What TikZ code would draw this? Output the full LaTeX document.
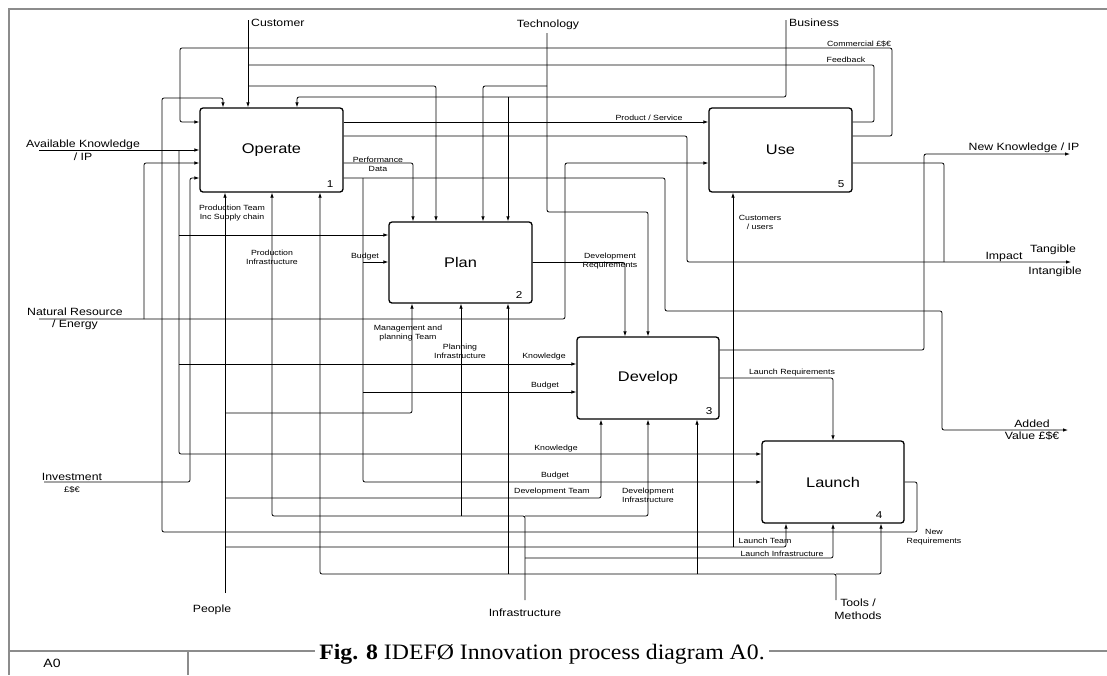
\documentclass[tikz,border=0pt]{standalone}
\usepackage{fontspec}
\setmainfont{Liberation Sans}[FakeStretch=1.17]
\newfontfamily\capfont{Liberation Serif}[FakeStretch=1.08]
\usetikzlibrary{arrows.meta}

\begin{document}
\begin{tikzpicture}[x=1pt, y=-1pt, every node/.style={inner sep=0pt},
  func/.style={draw, line width=1.3pt, rounded corners=3pt, minimum width=143pt, minimum height=84pt, font=\fontsize{14}{14}\selectfont},
  num/.style={anchor=south east, font=\fontsize{10}{10}\selectfont},
  ext/.style={align=center, font=\fontsize{10.5}{12.5}\selectfont},
  lbl/.style={align=center, font=\fontsize{7.5}{9}\selectfont},
  arr/.style={-{Latex[length=5pt,width=3.5pt]}, line width=0.8pt, rounded corners=2pt},
  wire/.style={line width=0.8pt, rounded corners=2pt},
  frame/.style={draw=black!45, line width=1.2pt}]
\useasboundingbox (0,0) rectangle (1107,675);
\draw[frame] (1107,9) -- (9,9) -- (9,675);
\draw[frame] (9,651) -- (1107,651);
\draw[frame] (188,651) -- (188,675);
\node[ext, font=\fontsize{12}{12}\selectfont] (sheet) at (52,663) {A0};
\node[fill=white, inner xsep=4pt, inner ysep=1pt, anchor=base, font=\capfont\fontsize{22}{22}\selectfont] (caption) at (542,659) {\textbf{Fig. 8} IDEFØ Innovation process diagram A0.};

\node[func] (op) at (271.5,150) {Operate};
\node[func] (us) at (780.5,150) {Use};
\node[func, minimum height=81pt] (pl) at (460.5,262.5) {Plan};
\node[func, minimum width=142pt, minimum height=82pt] (dv) at (648,378) {Develop};
\node[func, minimum width=142pt, minimum height=82pt] (la) at (833,482) {Launch};
\node[num] (op-n) at ([shift={(-10,-5)}]op.south east) {1};
\node[num] (pl-n) at ([shift={(-10,-5)}]pl.south east) {2};
\node[num] (dv-n) at ([shift={(-7,-5)}]dv.south east) {3};
\node[num] (la-n) at ([shift={(-22,-5)}]la.south east) {4};
\node[num] (us-n) at ([shift={(-8,-5)}]us.south east) {5};

\coordinate (cust) at (248,20);
\coordinate (tech) at (547,33);
\coordinate (bus) at (786,20);
\coordinate (avk) at (39,150);
\coordinate (nat) at (39,319);
\coordinate (inv) at (44,482);
\coordinate (ppl) at (225,593);
\coordinate (infra) at (525,600);
\coordinate (tool) at (836,600);
\coordinate (nkip) at (1070,154);
\coordinate (impact) at (1071,262);
\coordinate (addv) at (1068,430);

\draw[arr] (cust) -- (op.north -| cust);
\draw[arr] (cust |- 0,86) -- (436,86) -- (pl.north -| 436,0);
\draw[wire] (us.east |- 0,122) -- (874,122) -- (874,65) -- (cust |- 0,65);
\draw[arr] (us.east |- 0,136) -- (892,136) -- (892,48) -- (180,48) -- (180,122) -- (op.west |- 0,122);
\draw[arr] (bus) -- (bus |- 0,97) -- (297,97) -- (op.north -| 297,0);
\draw[arr] (508,97) -- (pl.north -| 508,0);
\draw[arr] (tech) -- (547,212) -- (648,212) -- (dv.north);
\draw[arr] (tech |- 0,86) -- (483,86) -- (pl.north -| 483,0);
\draw[arr] (la.east) -- (917,482) -- (917,532) -- (162,532) -- (162,98) -- (223,98) -- (op.north -| 223,0);

\draw[arr] (avk) -- (op.west |- avk);
\draw[arr] (179,150) -- (179,454) -- (la.west |- 0,454);
\draw[arr] (179,235) -- (pl.west |- 0,235);
\draw[arr] (179,364) -- (dv.west |- 0,364);
\draw[arr] (nat) -- (565,319) -- (565,163) -- (us.west |- 0,163);
\draw[arr] (144,319) -- (144,163) -- (op.west |- 0,163);
\draw[arr] (inv) -- (190,482) -- (190,178) -- (op.west |- 0,178);

\draw[arr] (op.east |- 0,122) -- (us.west |- 0,122);
\draw[arr] (op.east |- 0,136) -- (687,136) -- (687,262) -- (impact);
\draw[wire] (us.east |- 0,163) -- (944,163) -- (944,262);
\draw[arr] (op.east |- 0,163) -- (413,163) -- (pl.north -| 413,0);
\draw[arr] (op.east |- 0,178) -- (665,178) -- (665,311) -- (942,311) -- (942,430) -- (addv);
\draw[arr] (363,178) -- (363,482) -- (la.west |- 0,482);
\draw[arr] (363,262) -- (pl.west |- 0,262);
\draw[arr] (363,392) -- (dv.west |- 0,392);

\draw[arr] (pl.east) -- (625,262.5) -- (dv.north -| 625,0);
\draw[arr] (dv.east |- 0,350) -- (924,350) -- (924,154) -- (nkip);
\draw[arr] (dv.east) -- (833,378) -- (la.north);

\draw[arr] (ppl) -- (op.south -| ppl);
\draw[arr] (ppl |- 0,413) -- (412,413) -- (pl.south -| 412,0);
\draw[arr] (ppl |- 0,498) -- (601,498) -- (dv.south -| 601,0);
\draw[arr] (ppl |- 0,547) -- (786,547) -- (la.south -| 786,0);
\draw[arr] (733,547) -- (us.south -| 733,0);
\draw[arr] (infra) -- (infra |- 0,516) -- (272,516) -- (op.south -| 272,0);
\draw[arr] (infra |- 0,516) -- (648,516) -- (dv.south);
\draw[arr] (461,516) -- (pl.south -| 461,0);
\draw[arr] (infra |- 0,558) -- (833,558) -- (la.south);
\draw[arr] (tool) -- (836,574) -- (320,574) -- (op.south -| 320,0);
\draw[arr] (836,574) -- (881,574) -- (la.south -| 881,0);
\draw[arr] (508,574) -- (pl.south -| 508,0);
\draw[arr] (697,574) -- (dv.south -| 697,0);

\node[ext, anchor=west] (cust-l) at (251,23) {Customer};
\node[ext] (tech-l) at (548,25) {Technology};
\node[ext, anchor=west] (bus-l) at (789,23) {Business};
\node[ext] (avk-l) at (83,150) {Available Knowledge\\/ IP};
\node[ext] (nat-l) at (75,319) {Natural Resource\\/ Energy};
\node[ext] (inv-l) at (72,483) {Investment\\{\fontsize{8}{9}\selectfont£\$€}};
\node[ext] (ppl-l) at (212,610) {People};
\node[ext] (infra-l) at (525,613) {Infrastructure};
\node[ext] (tool-l) at (858,609) {Tools /\\Methods};
\node[ext] (nkip-l) at (1024,148) {New Knowledge / IP};
\node[ext] (impact-l) at (1004,257) {Impact};
\node[ext] (tang-l) at (1053,250) {Tangible};
\node[ext] (intang-l) at (1055,272) {Intangible};
\node[ext] (addv-l) at (1032,430) {Added\\Value £\$€};

\node[lbl] (comm-l) at (859,44) {Commercial £\$€};
\node[lbl] (fb-l) at (846,60) {Feedback};
\node[lbl] (prod-l) at (649,118) {Product / Service};
\node[lbl] (perf-l) at (378,164) {Performance\\Data};
\node[lbl] (pteam-l) at (232,213) {Production Team\\Inc Supply chain};
\node[lbl] (pinfra-l) at (272,257) {Production\\Infrastructure};
\node[lbl] (cu-l) at (760,222) {Customers\\/ users};
\node[lbl] (bplan-l) at (365,257) {Budget};
\node[lbl] (dreq-l) at (610,261) {Development\\Requirements};
\node[lbl] (mteam-l) at (408,333) {Management and\\planning Team};
\node[lbl] (plinfra-l) at (460,351) {Planning\\Infrastructure};
\node[lbl] (kdev-l) at (544,357) {Knowledge};
\node[lbl] (bdev-l) at (545,386) {Budget};
\node[lbl] (lreq-l) at (792,373) {Launch Requirements};
\node[lbl] (kla-l) at (556,449) {Knowledge};
\node[lbl] (bla-l) at (555,476) {Budget};
\node[lbl] (dteam-l) at (552,492) {Development Team};
\node[lbl] (dinfra-l) at (648,495) {Development\\Infrastructure};
\node[lbl] (lteam-l) at (765,541) {Launch Team};
\node[lbl] (linfra-l) at (782,554) {Launch Infrastructure};
\node[lbl] (nreq-l) at (934,537) {New\\Requirements};
\end{tikzpicture}
\end{document}
